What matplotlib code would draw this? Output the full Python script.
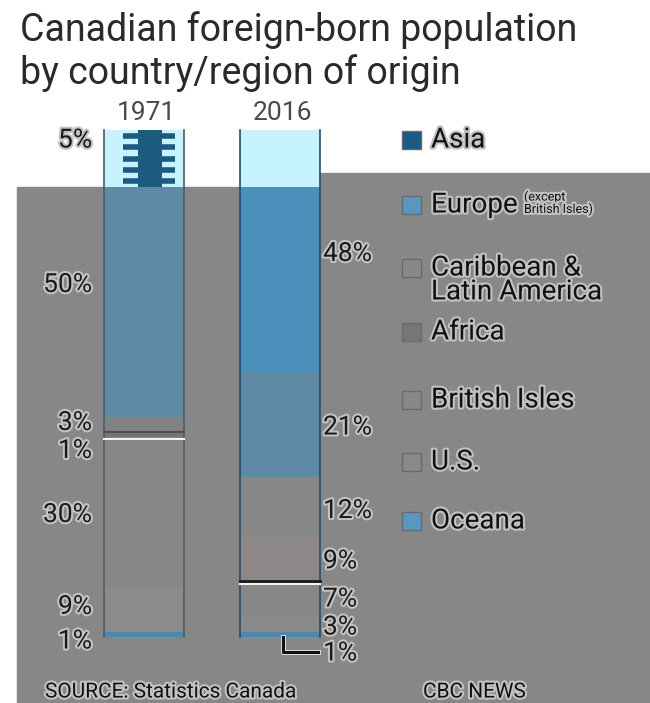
import numpy as np
import matplotlib.pyplot as plt
import matplotlib.patheffects as pe
from matplotlib.patches import Rectangle

plt.rcParams['font.family'] = ['DejaVu Sans Condensed', 'Roboto', 'DejaVu Sans']

# Shares of the foreign-born population (percent), bottom of the stack first
regions = ["Oceana", "U.S.", "British Isles", "Africa",
           "Caribbean &\nLatin America", "Europe", "Asia"]
share_1971 = [1, 9, 30, 1, 3, 50, 5]
share_2016 = [1, 3, 7, 9, 12, 21, 48]
years = ["1971", "2016"]

# label text for the legend, top to bottom
legend_names = ["Asia", "Europe", "Caribbean &\nLatin America", "Africa",
                "British Isles", "U.S.", "Oceana"]

bg_grey = "#878787"
seg_colors_1971 = ["#4f86ad", "#8b8b8b", "#868686", "#747474",
                   "#828282", "#5f8aa6", "#1d5a80"]
seg_colors_2016 = ["#4f86ad", "#8a8a8a", "#878787", "#8d8787",
                   "#888888", "#5f8aa6", "#4b8fba"]
legend_colors = ["#1a5a85", "#5a96bd", "#888888", "#767676",
                 "#878787", "#8a8a8a", "#5a96c0"]

px_per_pct = 5.0
base_px = 637
fig = plt.figure(figsize=(6.5, 7.03), dpi=100)
ax = fig.add_axes([0, 0, 1, 1])
ax.set_xlim(0, 650)
ax.set_ylim((base_px - 703) / px_per_pct, base_px / px_per_pct)
ax.axis("off")


def py(v):
    # pixel row -> value on the percent axis
    return (base_px - v) / px_per_pct


# grey panel behind the lower part of the chart
ax.add_patch(Rectangle((17, py(703)), 633, py(187) - py(703),
                       color=bg_grey, zorder=0))
ax.add_patch(Rectangle((267, py(703)), 383, py(173) - py(703),
                       color=bg_grey, zorder=0))

halo = [pe.withStroke(linewidth=3, foreground="#c2c2c2")]
bar_x = [144, 280]
bar_w = 80
cut = py(187)
col_top = max(sum(share_1971), sum(share_2016)) + 0.4

for i, (vals, cols) in enumerate([(share_1971, seg_colors_1971),
                                  (share_2016, seg_colors_2016)]):
    bottoms = np.concatenate([[0], np.cumsum(vals)[:-1]])
    ax.bar(bar_x[i], vals, bottom=bottoms, width=bar_w, color=cols,
           edgecolor="none", zorder=2)
    # pale upper part of the columns
    ax.bar(bar_x[i], col_top - cut, bottom=cut, width=bar_w, color="#c6f3fd",
           edgecolor="none", zorder=3)
    edge = "#2b4a66" if i == 1 else "#4d5a66"
    ax.plot([bar_x[i] - bar_w / 2] * 2, [0, col_top], color=edge, lw=1.2, zorder=4)
    ax.plot([bar_x[i] + bar_w / 2] * 2, [0, col_top], color=edge, lw=1.2, zorder=4)
    ax.text(bar_x[i] + 2, py(113), years[i], ha="center", va="center",
            fontsize=19, color="#4a4a4a")

    # white rule under Africa, dark rule on its top (1971) / bottom (2016)
    afr_lo = bottoms[3]
    afr_hi = afr_lo + vals[3]
    xl, xr = bar_x[i] - bar_w / 2, bar_x[i] + bar_w / 2
    ax.plot([xl, xr], [afr_lo - 0.35] * 2, color="#f2f2f2", lw=1.5, zorder=4)
    if i == 0:
        ax.plot([xl, xr], [afr_hi] * 2, color="#505050", lw=1.5, zorder=4)
    else:
        ax.plot([xl, xr], [afr_lo + 0.15] * 2, color="#1a1a1a", lw=2, zorder=4)

# Asia 1971 marker filling the pale top of the column
ax.bar(bar_x[0] + 6, col_top - cut, bottom=cut, width=24, color="#1d5a80",
       zorder=5)
for k in range(5):
    yk = cut + (col_top - cut) * (k + 0.5) / 5
    ax.plot([bar_x[0] - 21, bar_x[0] + 31], [yk, yk], color="#1d5a80",
            lw=4, zorder=5, solid_capstyle="butt")

# value labels, 1971 to the left of the column
lab_71 = np.cumsum(share_1971) - np.array(share_1971) / 2
nudge_71 = [-1.4, 0.5, -0.6, -3.3, 0.3, 1.4, 2.8]
for v, c, d in zip(share_1971, lab_71, nudge_71):
    ax.text(92, c + d, f"{v}%", ha="right", va="center", fontsize=19,
            color="#1a1a1a", path_effects=halo, zorder=6)

# 2016 to the right of the column
lab_16 = np.cumsum(share_2016) - np.array(share_2016) / 2
nudge_16 = [-3.8, -0.6, 0, -0.4, -0.8, -0.6, -0.4]
for v, c, d in zip(share_2016, lab_16, nudge_16):
    ax.text(323, c + d, f"{v}%", ha="left", va="center", fontsize=19,
            color="#1a1a1a", path_effects=halo, zorder=6)
ax.plot([283, 283, 318], [0, -3.0, -3.0], color="#111111", lw=2.2, zorder=5,
        path_effects=[pe.withStroke(linewidth=3.5, foreground="#e8e8e8")])

# legend
leg_rows = [140, 205, 268, 332, 400, 462, 521]
for name, col, r in zip(legend_names, legend_colors, leg_rows):
    ax.add_patch(Rectangle((402, py(r + 9)), 19, 18 / px_per_pct,
                           facecolor=col, edgecolor="#6a6a6a", lw=1, zorder=5))
    ax.text(431, py(r) if "\n" not in name else py(r + 12), name,
            ha="left", va="center", fontsize=20, color="#111111",
            linespacing=0.85, path_effects=halo, zorder=6)
ax.text(524, py(203), "(except\nBritish Isles)", ha="left", va="center",
        fontsize=9, color="#111111", linespacing=0.9, path_effects=halo, zorder=6)

# title and footer
ax.text(20, py(30), "Canadian foreign-born population", ha="left",
        va="center", fontsize=27, color="#2a2a2a")
ax.text(20, py(73), "by country/region of origin", ha="left",
        va="center", fontsize=27, color="#2a2a2a")
ax.text(45, py(692), "SOURCE: Statistics Canada", ha="left", va="center",
        fontsize=15, color="#111111", path_effects=halo)
ax.text(423, py(692), "CBC NEWS", ha="left", va="center",
        fontsize=15, color="#111111", path_effects=halo)

fig.savefig("out.png", dpi=100, facecolor="white")
